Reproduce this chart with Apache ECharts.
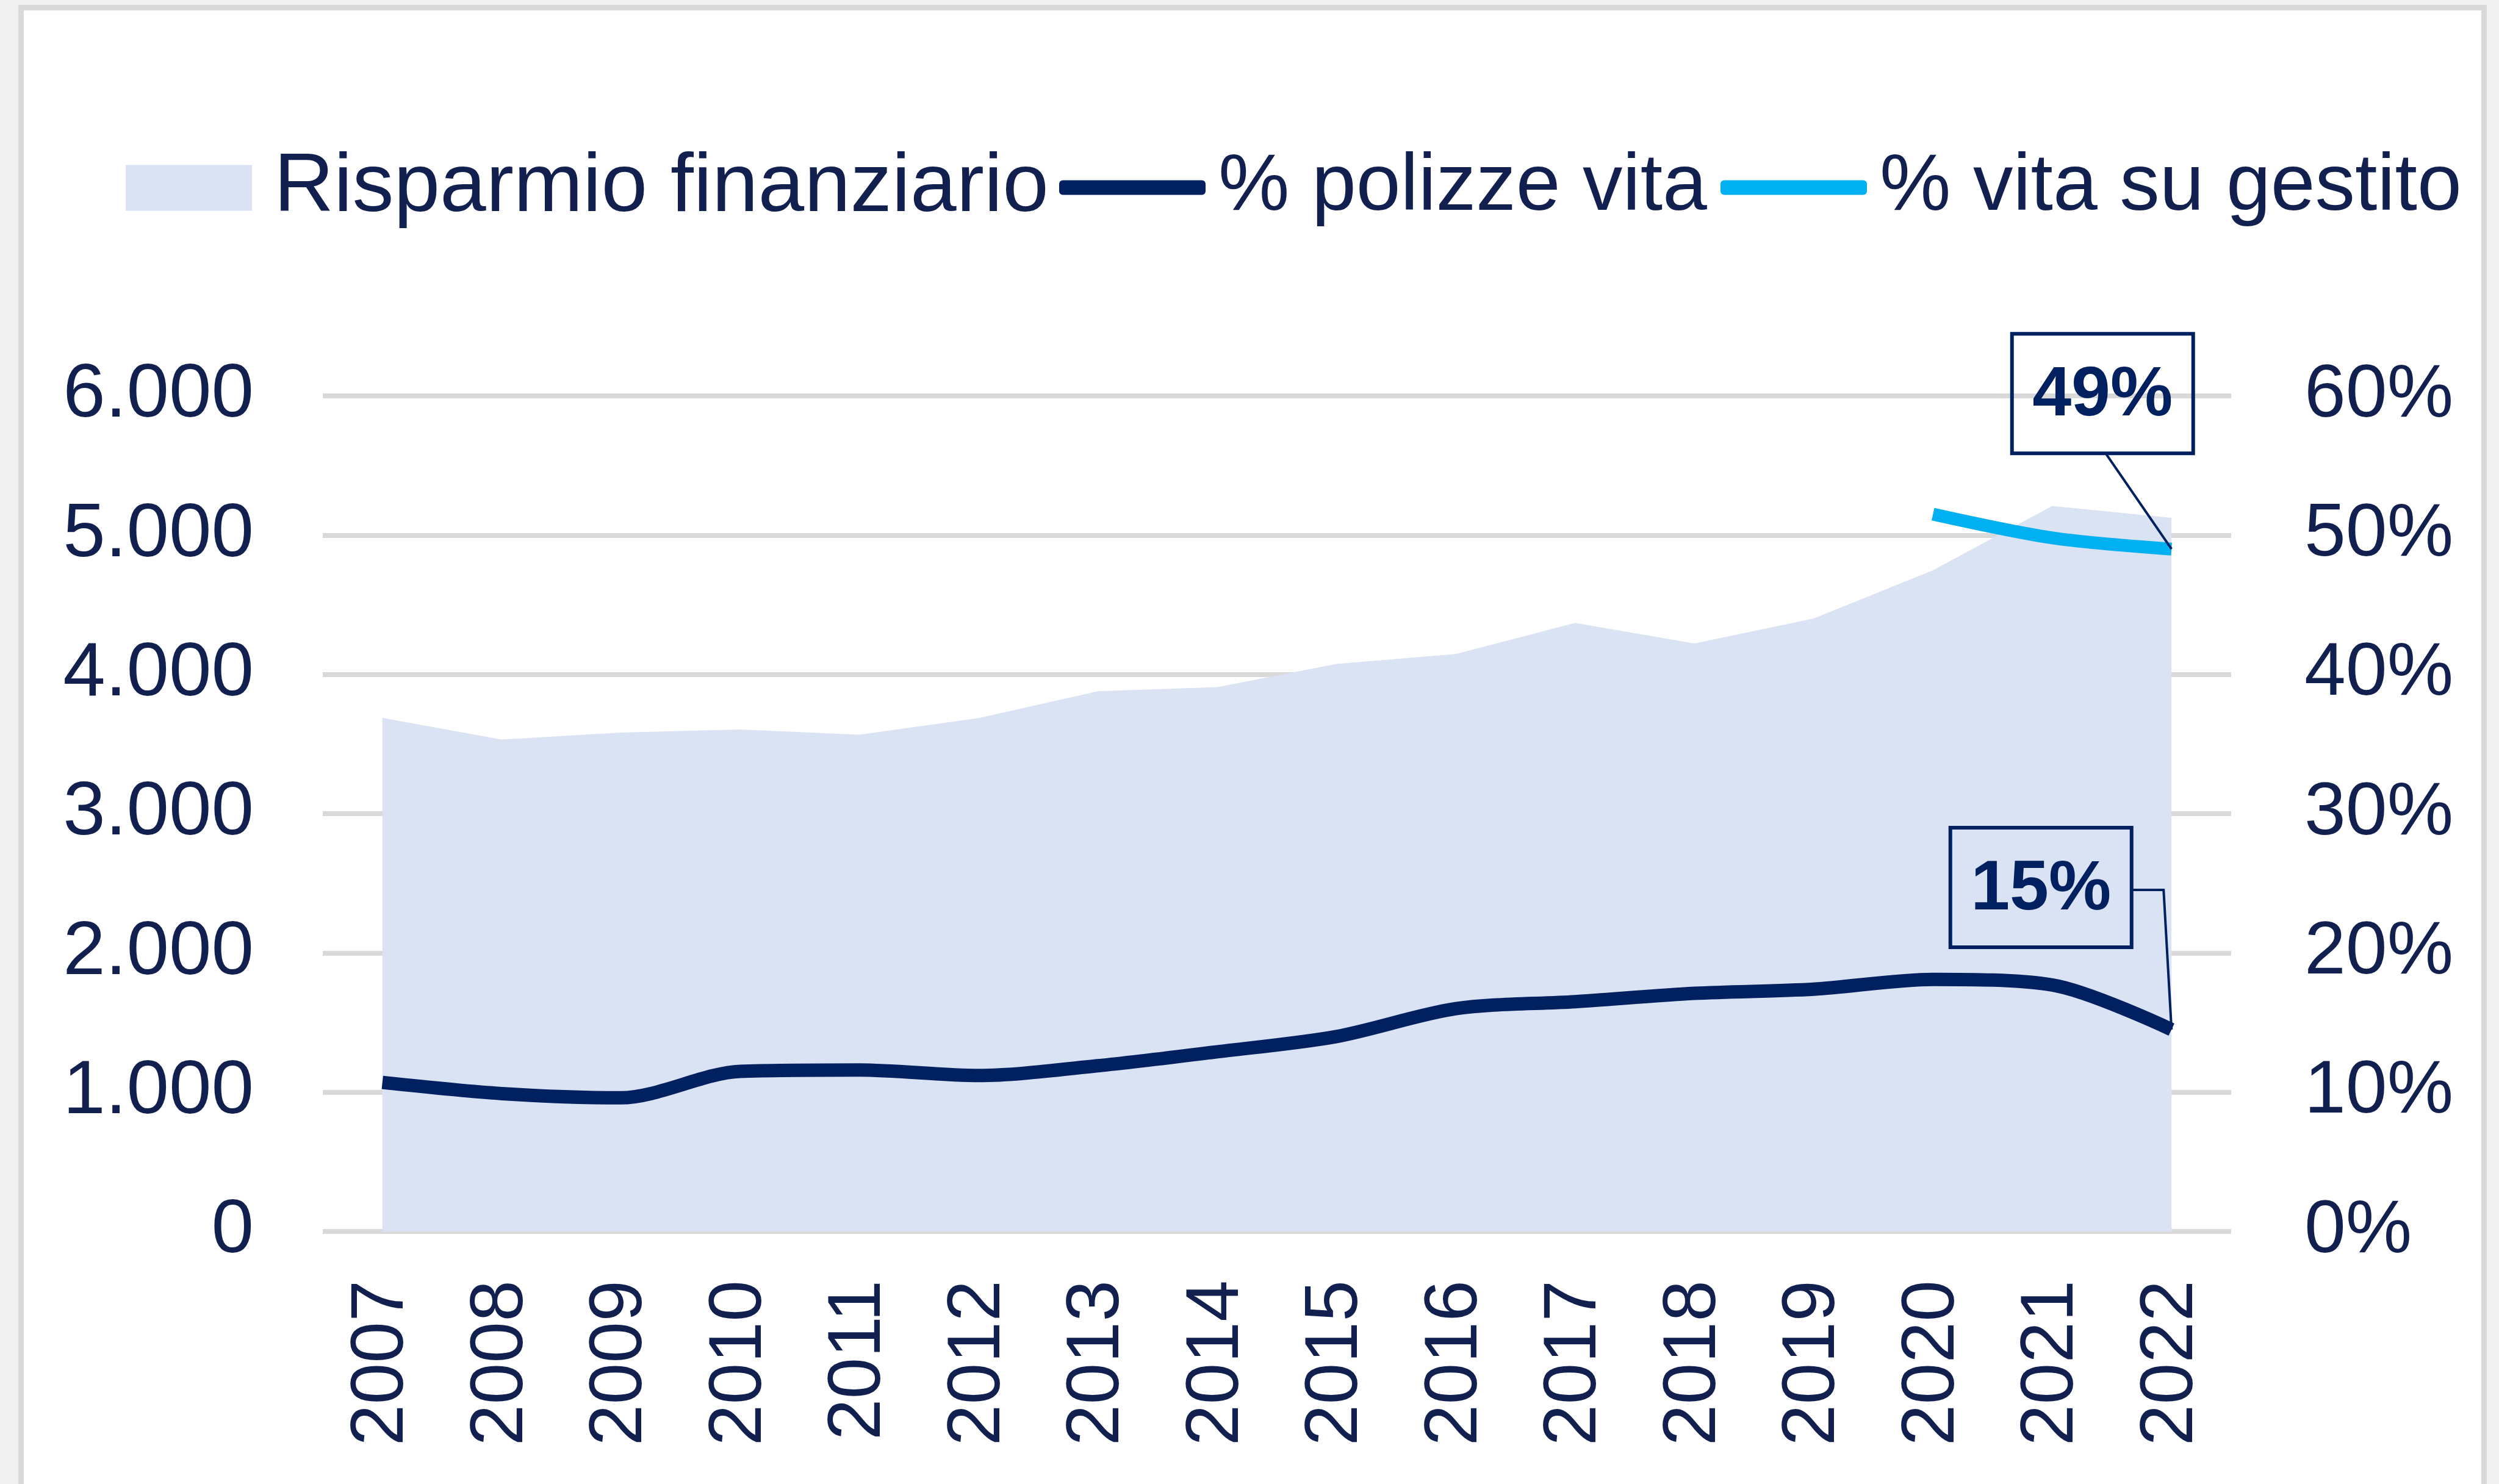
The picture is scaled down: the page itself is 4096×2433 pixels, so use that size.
<!DOCTYPE html>
<html>
<head>
<meta charset="utf-8">
<script src="https://cdn.jsdelivr.net/npm/echarts@6/dist/echarts.min.js"></script>
<style>
  html, body { margin: 0; padding: 0; background: #f0f0f0; overflow: hidden; }
  #frame { position: absolute; left: 30px; top: 8px; width: 4028px; height: 2600px; background: #fff; border: 9px solid #d9d9d9; }
  #main { position: absolute; left: 0; top: 0; width: 4096px; height: 2433px; }
</style>
</head>
<body>
<div id="frame"></div>
<div id="main"></div>
<script>
// data
const years = ['2007', '2008', '2009', '2010', '2011', '2012', '2013', '2014',
  '2015', '2016', '2017', '2018', '2019', '2020', '2021', '2022'];
const risparmio = [3688, 3532, 3583, 3604, 3567, 3686, 3879, 3909,
  4075, 4146, 4370, 4222, 4402, 4747, 5210, 5124];
const polizzeVita = [10.7, 9.9, 9.6, 11.5, 11.6, 11.2, 11.9, 12.9,
  14.0, 16.0, 16.5, 17.1, 17.4, 18.1, 17.7, 14.5];
const vitaGestito = [null, null, null, null, null, null, null, null,
  null, null, null, null, null, 51.5, 49.8, 49.0];
const leftTicks = { min: 0, max: 6000, step: 1000 };
const rightTicks = { min: 0, max: 60, step: 10 };

const navy = '#002060';
const textColor = '#11204f';
const font = 'Liberation Sans';

function thousands(v) {
  return String(v).replace(/\B(?=(\d{3})+(?!\d))/g, '.');
}

function legendBox(name, color, icon, left, top, w, h, gap, size) {
  return {
    data: [{ name: name, icon: icon, itemStyle: { color: color, borderWidth: 0 } }],
    left: left, top: top, padding: 0,
    itemWidth: w, itemHeight: h,
    selectedMode: false,
    textStyle: { fontFamily: font, fontSize: size, color: textColor, padding: [0, 0, 20, gap] }
  };
}

var myChart = echarts.init(document.getElementById('main'));
myChart.setOption({
  animation: false,
  legend: [
    legendBox('Risparmio finanziario', '#dae3f3', 'rect', 206, 240, 207, 75, 31, 136),
    legendBox('% polizze vita', navy, 'roundRect', 1736, 242, 240, 24, 16, 131),
    legendBox('% vita su gestito', '#00b0f0', 'roundRect', 2820, 242, 240, 24, 16, 131)
  ],
  grid: { left: 529, right: 439, top: 649, bottom: 414, containLabel: false },
  xAxis: {
    type: 'category',
    data: years,
    boundaryGap: true,
    axisLine: { show: false },
    axisTick: { show: false },
    axisLabel: { rotate: 90, margin: 80, fontFamily: font, fontSize: 122, color: textColor }
  },
  yAxis: [
    {
      type: 'value',
      min: leftTicks.min, max: leftTicks.max, interval: leftTicks.step,
      axisLine: { show: false },
      axisTick: { show: false },
      axisLabel: { margin: 113, fontFamily: font, fontSize: 125, color: textColor, formatter: thousands },
      splitLine: { lineStyle: { color: '#d9d9d9', width: 8 } }
    },
    {
      type: 'value',
      min: rightTicks.min, max: rightTicks.max, interval: rightTicks.step,
      axisLine: { show: false },
      axisTick: { show: false },
      axisLabel: { margin: 120, fontFamily: font, fontSize: 122, color: textColor, formatter: '{value}%' },
      splitLine: { show: false }
    }
  ],
  series: [
    {
      name: 'Risparmio finanziario',
      type: 'line',
      data: risparmio,
      yAxisIndex: 0,
      symbol: 'none',
      color: '#dae3f3',
      lineStyle: { width: 0 },
      areaStyle: { color: '#dae3f3', opacity: 1 },
      z: 1
    },
    {
      name: '% polizze vita',
      type: 'line',
      data: polizzeVita,
      yAxisIndex: 1,
      symbol: 'none',
      smooth: 0.3,
      color: navy,
      lineStyle: { width: 22, color: navy },
      z: 3
    },
    {
      name: '% vita su gestito',
      type: 'line',
      data: vitaGestito,
      yAxisIndex: 1,
      symbol: 'none',
      smooth: 0.3,
      color: '#00b0f0',
      lineStyle: { width: 21, color: '#00b0f0' },
      z: 3
    }
  ]
});

// callout boxes on the last year, placed relative to the data point
function callout(seriesIndex, values, dx, dy, elbow) {
  const last = values.length - 1;
  const p = myChart.convertToPixel({ seriesIndex: seriesIndex }, [last, values[last]]);
  const cx = p[0] + dx, cy = p[1] + dy;
  const w = 297, h = 196;
  const pts = elbow
    ? [[cx + w / 2, cy + 4], [p[0] - 13, cy + 4], p]
    : [[cx + 5, cy + h / 2], p];
  return [
    { type: 'rect', shape: { x: cx - w / 2, y: cy - h / 2, width: w, height: h },
      style: { fill: 'none', stroke: navy, lineWidth: 6 }, z: 10 },
    { type: 'text', x: cx, y: cy + 4,
      style: { text: Math.round(values[last]) + '%', align: 'center', verticalAlign: 'middle',
        font: 'bold 115px "Liberation Sans"', fill: navy }, z: 10 },
    { type: 'polyline', shape: { points: pts },
      style: { stroke: navy, lineWidth: 4, fill: 'none' }, z: 10 }
  ];
}

myChart.setOption({
  graphic: [].concat(
    callout(2, vitaGestito, -113, -255, false),
    callout(1, polizzeVita, -214, -233, true)
  )
});
</script>
</body>
</html>
